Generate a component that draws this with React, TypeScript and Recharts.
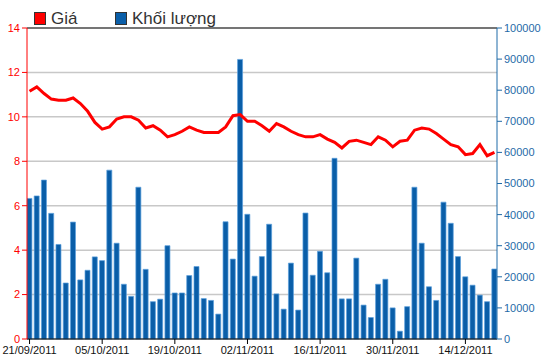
import React from 'react';
import { ComposedChart, Bar, Line, XAxis, YAxis, CartesianGrid, ReferenceLine } from 'recharts';

const dates = [
  '21/09/2011', '22/09/2011', '23/09/2011', '26/09/2011', '27/09/2011', '28/09/2011', '29/09/2011', '30/09/2011',
  '03/10/2011', '04/10/2011', '05/10/2011', '06/10/2011', '07/10/2011', '10/10/2011', '11/10/2011', '12/10/2011',
  '13/10/2011', '14/10/2011', '17/10/2011', '18/10/2011', '19/10/2011', '20/10/2011', '21/10/2011', '24/10/2011',
  '25/10/2011', '26/10/2011', '27/10/2011', '28/10/2011', '31/10/2011', '01/11/2011', '02/11/2011', '03/11/2011',
  '04/11/2011', '07/11/2011', '08/11/2011', '09/11/2011', '10/11/2011', '11/11/2011', '14/11/2011', '15/11/2011',
  '16/11/2011', '17/11/2011', '18/11/2011', '21/11/2011', '22/11/2011', '23/11/2011', '24/11/2011', '25/11/2011',
  '28/11/2011', '29/11/2011', '30/11/2011', '01/12/2011', '02/12/2011', '05/12/2011', '06/12/2011', '07/12/2011',
  '08/12/2011', '09/12/2011', '12/12/2011', '13/12/2011', '14/12/2011', '15/12/2011', '16/12/2011', '19/12/2011',
  '20/12/2011',
];

// Giá (left axis)
const prices = [
  11.15, 11.35, 11.05, 10.8, 10.75, 10.75, 10.85, 10.6, 10.25, 9.75,
  9.45, 9.55, 9.9, 10.0, 10.0, 9.85, 9.5, 9.6, 9.4, 9.1,
  9.2, 9.35, 9.55, 9.4, 9.3, 9.3, 9.3, 9.55, 10.05, 10.1,
  9.8, 9.8, 9.6, 9.35, 9.7, 9.55, 9.35, 9.2, 9.1, 9.1,
  9.2, 9.0, 8.85, 8.6, 8.9, 8.95, 8.85, 8.75, 9.1, 8.95,
  8.65, 8.9, 8.95, 9.4, 9.5, 9.45, 9.25, 9.0, 8.75, 8.65,
  8.3, 8.35, 8.75, 8.25, 8.4,
];

// Khối lượng (right axis)
const volumes = [
  45200, 46000, 51100, 40400, 30400, 18000, 37600, 19000, 22100, 26400,
  25200, 54300, 30800, 17600, 13700, 48800, 22400, 12000, 12800, 30000,
  14800, 14800, 20400, 23300, 13000, 12400, 8000, 37700, 25700, 89900,
  40100, 20200, 26500, 36900, 14500, 9600, 24400, 9300, 40500, 20500,
  28200, 21300, 58100, 12900, 12900, 26000, 10900, 6900, 17600, 19200,
  10000, 2500, 10400, 48800, 30800, 16800, 12400, 44000, 37200, 26500,
  20000, 17300, 14100, 12000, 22500,
];

const xTicks = [0, 10, 20, 30, 40, 50, 60];
const priceTicks = [0, 2, 4, 6, 8, 10, 12, 14];
const volumeTicks = [0, 10000, 20000, 30000, 40000, 50000, 60000, 70000, 80000, 90000, 100000];

const data = dates.map((date, i) => ({ i, date, price: prices[i], volume: volumes[i] }));

const font = '"Liberation Sans", Arial, sans-serif';
const red = '#ff0000';
const blue = '#0a5ea8';
const axisBlue = '#1f6aa8';

function LegendItem({ color, label, left }: { color: string; label: string; left: number }) {
  return (
    <div style={{ position: 'absolute', left, top: 10, display: 'flex', alignItems: 'flex-start' }}>
      <div
        style={{
          width: 10,
          height: 11,
          marginTop: 2,
          background: color,
          border: '1px solid #333',
        }}
      />
      <span style={{ marginLeft: 5, fontSize: 17, lineHeight: '17px', color: '#333', fontFamily: font }}>{label}</span>
    </div>
  );
}

export default function App() {
  return (
    <div style={{ position: 'absolute', left: 0, top: 0, width: 550, height: 364, background: '#fff' }}>
      <ComposedChart width={550} height={364} data={data} margin={{ top: 28, right: 0, bottom: 0, left: 0 }}>
        <CartesianGrid yAxisId="left" vertical={false} stroke="#c8c8c8" strokeWidth={1.5} />
        <XAxis
          dataKey="i"
          type="number"
          domain={[-0.35, 64.35]}
          allowDataOverflow
          ticks={xTicks}
          tickFormatter={(v: number) => dates[v]}
          interval={0}
          height={25}
          tickSize={5}
          stroke="#000"
          tick={{ fill: '#111', fontSize: 11, fontFamily: font }}
        />
        <YAxis
          yAxisId="left"
          domain={[0, 14]}
          ticks={priceTicks}
          width={27}
          tickSize={5}
          stroke={red}
          tick={{ fill: red, fontSize: 11, fontFamily: font }}
        />
        <YAxis
          yAxisId="right"
          orientation="right"
          domain={[0, 100000]}
          ticks={volumeTicks}
          width={53}
          tickSize={5}
          stroke={axisBlue}
          tick={{ fill: axisBlue, fontSize: 11, fontFamily: font }}
        />
        <ReferenceLine yAxisId="left" y={14} stroke="#555" strokeWidth={1.5} />
        <Bar
          yAxisId="right"
          dataKey="volume"
          barSize={5}
          fill={blue}
          stroke="#5a9fdc"
          strokeWidth={0.7}
          isAnimationActive={false}
        />
        <Line
          yAxisId="left"
          type="linear"
          dataKey="price"
          stroke={red}
          strokeWidth={3}
          dot={false}
          isAnimationActive={false}
        />
      </ComposedChart>
      <LegendItem color={red} label="Giá" left={34} />
      <LegendItem color={blue} label="Khối lượng" left={115} />
    </div>
  );
}
